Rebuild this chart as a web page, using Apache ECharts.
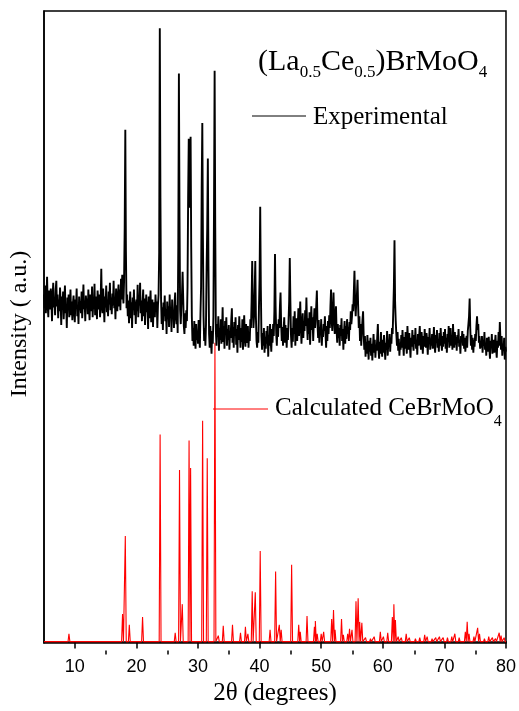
<!DOCTYPE html>
<html>
<head>
<meta charset="utf-8">
<script src="https://cdn.jsdelivr.net/npm/echarts@6/dist/echarts.min.js"></script>
<style>
  html, body { margin: 0; padding: 0; background: #fff; }
  #chart { width: 519px; height: 711px; }
</style>
</head>
<body>
<div id="chart"></div>
<script>
// ---- data -------------------------------------------------------------
const twoThetaRange = [5, 80];
const majorTicks = [10, 20, 30, 40, 50, 60, 70, 80];
const minorTicks = [15, 25, 35, 45, 55, 65, 75];

// Measured pattern, 2θ = 5.0 … 80.0 in 0.1° steps (one row per degree)
const expStart = 5.0;
const expStep = 0.1;
const expIntensity = [
  352,338,361,333,349,370,341,329,356,344,
  337,358,346,325,351,364,339,348,331,357,
  366,340,352,328,347,335,359,344,321,350,
  338,355,327,346,361,333,342,318,349,336,
  352,329,340,357,331,345,326,343,351,334,
  324,347,339,358,330,341,322,350,336,345,
  333,355,328,343,362,337,346,325,351,340,
  348,332,357,339,326,352,343,335,360,329,
  345,338,363,331,350,341,327,356,344,337,
  352,329,346,378,340,333,358,345,324,350,
  339,361,334,347,330,355,342,364,336,349,
  332,353,341,366,338,349,327,358,344,335,
  351,362,340,357,336,368,347,372,355,343,
  366,420,519,395,338,352,330,346,323,341,
  355,328,344,318,349,336,357,331,345,322,
  347,335,362,329,350,341,364,333,346,325,
  343,357,330,348,321,339,352,334,345,317,
  350,328,342,356,324,338,347,319,344,336,
  329,352,338,345,318,341,352,395,622,450,
  348,322,339,316,344,330,351,325,337,312,
  345,327,340,319,352,331,338,314,347,329,
  336,318,344,354,330,322,341,313,400,576,
  430,336,322,341,352,375,348,320,312,333,
  318,336,325,360,450,510,440,460,512,400,
  330,305,318,300,325,310,297,322,306,315,
  302,326,310,298,332,360,460,526,410,330,
  305,318,300,322,380,420,490,380,312,298,
  320,305,292,315,302,330,440,579,420,315,
  300,322,309,330,295,318,306,327,302,314,
  339,304,320,297,325,311,329,300,317,306,
  321,296,314,308,326,338,303,319,298,324,
  310,329,301,317,293,321,306,330,312,298,
  318,304,327,296,314,331,308,299,322,311,
  303,320,298,312,305,327,318,345,386,340,
  318,330,355,386,330,305,298,314,303,340,
  370,441,360,310,296,313,300,318,293,309,
  297,315,302,320,289,311,300,322,305,294,
  317,303,322,310,335,393,340,312,300,322,
  309,327,318,340,354,322,305,319,300,316,
  329,303,321,310,298,318,306,325,345,389,
  345,310,298,318,304,330,312,335,300,322,
  328,305,320,338,310,326,345,318,302,321,
  333,308,325,315,336,320,349,322,306,328,
  312,334,301,322,340,316,329,305,324,338,
  318,330,341,356,322,308,326,303,319,311,
  327,300,316,309,322,315,330,312,298,320,
  305,325,312,331,318,340,357,326,315,333,
  354,328,312,325,340,316,303,322,308,318,
  300,321,310,328,305,317,296,314,325,302,
  320,307,327,312,319,305,324,316,335,322,
  330,342,335,355,376,348,330,345,352,367,
  340,318,330,305,322,300,315,326,335,310,
  296,310,289,304,292,311,298,286,305,294,
  308,290,302,285,299,312,293,306,288,301,
  295,309,322,297,287,304,292,314,298,289,
  306,293,311,300,286,303,296,315,290,304,
  299,312,294,308,302,318,312,335,360,407,
  344,325,312,300,314,295,307,290,303,296,
  311,298,316,302,290,309,297,314,303,292,
  320,305,296,313,300,288,308,299,316,302,
  295,311,302,318,297,306,291,312,300,309,
  320,303,296,314,305,292,310,299,317,304,
  298,313,306,291,309,302,318,296,307,300,
  312,297,305,319,300,293,311,304,316,298,
  306,294,313,300,318,303,295,310,299,314,
  302,317,297,308,293,312,305,320,298,309,
  318,300,311,296,322,305,298,314,301,309,
  295,311,303,317,299,306,292,310,304,315,
  300,312,297,308,294,303,310,298,315,322,
  330,348,318,300,311,296,308,293,306,299,
  312,305,320,330,316,322,303,310,297,305,
  298,310,293,306,300,314,296,303,290,308,
  301,294,309,297,287,305,299,312,292,300,
  306,293,302,311,296,288,305,298,314,300,
  324,306,296,310,290,302,295,308,286,299,
  294
];

// Calculated CeBrMoO4 reflections: [2θ, intensity]
const calcPeaks = [
  [9.05, 8], [17.75, 28], [18.2, 107], [18.85, 17], [21.0, 25],
  [23.85, 210], [26.3, 9], [27.0, 174], [27.45, 38], [28.55, 204],
  [28.8, 176], [30.75, 224], [31.5, 186], [32.75, 303], [33.3, 6],
  [34.1, 16], [35.6, 17], [36.9, 9], [37.7, 15], [38.1, 8],
  [38.8, 51], [39.3, 50], [40.1, 92], [41.7, 12], [42.6, 71],
  [43.2, 17], [43.5, 12], [45.2, 78], [46.35, 17], [46.6, 10],
  [47.7, 26], [48.9, 15], [49.05, 21], [49.35, 8], [50.0, 8],
  [50.4, 10], [51.7, 23], [52.0, 32], [52.25, 12], [53.3, 23],
  [53.6, 7], [54.3, 8], [54.6, 13], [55.0, 12], [55.65, 41],
  [56.0, 44], [56.25, 20], [56.6, 19], [57.2, 4], [58.0, 3],
  [58.6, 5], [59.6, 10], [60.1, 5], [60.8, 9], [61.55, 25],
  [61.8, 38], [62.05, 22], [62.5, 5], [63.0, 4], [63.8, 8],
  [64.3, 4], [65.3, 3], [66.0, 4], [66.8, 7], [67.2, 5],
  [68.0, 3], [68.6, 4], [69.2, 5], [69.8, 4], [70.5, 4],
  [71.2, 5], [71.7, 8], [72.4, 4], [73.4, 10], [73.7, 20],
  [74.0, 8], [74.8, 5], [75.4, 14], [75.7, 8], [76.5, 3],
  [77.2, 5], [77.8, 4], [78.3, 3], [78.9, 9], [79.2, 6], [79.7, 4]
];

// ---- series construction ---------------------------------------------
const expLine = expIntensity.map((v, i) => [+(expStart + i * expStep).toFixed(1), v]);

const peakHalfWidth = 0.15;
const calcLine = [[twoThetaRange[0], 0]];
calcPeaks.forEach(([t, h]) => {
  calcLine.push([t - peakHalfWidth, 0], [t, h], [t + peakHalfWidth, 0]);
});
calcLine.push([twoThetaRange[1], 0]);

// ---- chart ------------------------------------------------------------
const serif = 'Liberation Serif';
const sans = 'Liberation Sans';
const chart = echarts.init(document.getElementById('chart'));

const gridBox = { left: 44, right: 12, top: 11, bottom: 59 };

chart.setOption({
  animation: false,
  backgroundColor: '#fff',
  grid: [
    Object.assign({ show: true, borderColor: '#000', borderWidth: 1.5, backgroundColor: 'transparent' }, gridBox),
    Object.assign({ show: false }, gridBox)
  ],
  xAxis: [
    {
      type: 'value', gridIndex: 0, position: 'bottom',
      min: twoThetaRange[0], max: twoThetaRange[1],
      axisLine: { show: true, lineStyle: { color: '#000', width: 1.5 } },
      axisTick: { show: true, inside: false, length: 7, customValues: majorTicks, lineStyle: { color: '#000', width: 1.5 } },
      axisLabel: { show: true, customValues: majorTicks, margin: 15, fontSize: 18, fontFamily: sans, color: '#000' },
      splitLine: { show: false },
      name: '2θ (degrees)', nameLocation: 'middle', nameGap: 30,
      nameTextStyle: { fontFamily: serif, fontSize: 25, color: '#000' }
    },
    {
      type: 'value', gridIndex: 1, position: 'bottom',
      min: twoThetaRange[0], max: twoThetaRange[1],
      axisLine: { show: false },
      axisTick: { show: true, inside: false, length: 4, customValues: minorTicks, lineStyle: { color: '#000', width: 1.5 } },
      axisLabel: { show: false },
      splitLine: { show: false }
    }
  ],
  yAxis: [
    {
      type: 'value', gridIndex: 0, min: -1.5, max: 639.5,
      axisLine: { show: true, lineStyle: { color: '#000', width: 1.5 } },
      axisTick: { show: false }, axisLabel: { show: false }, splitLine: { show: false }
    },
    {
      type: 'value', gridIndex: 1, min: -1.5, max: 639.5, show: false
    }
  ],
  series: [
    {
      name: 'Experimental', type: 'line', xAxisIndex: 0, yAxisIndex: 0,
      data: expLine, showSymbol: false, symbol: 'none',
      lineStyle: { color: '#000', width: 1.9 }, z: 3
    },
    {
      name: 'Calculated CeBrMoO4', type: 'line', xAxisIndex: 0, yAxisIndex: 0,
      data: calcLine, showSymbol: false, symbol: 'none',
      lineStyle: { color: '#ff0000', width: 1.1 }, z: 2
    }
  ],
  graphic: [
    {
      type: 'text', x: 20, y: 324, rotation: Math.PI / 2,
      style: { text: 'Intensity ( a.u.)', fontFamily: serif, fontSize: 24, fill: '#000', align: 'center', verticalAlign: 'middle' }
    },
    {
      type: 'text', x: 258, y: 42.8,
      style: {
        text: '{m|(La}{s|0.5}{m|Ce}{s|0.5}{m|)BrMoO}{s|4}',
        verticalAlign: 'top', fill: '#000',
        rich: {
          m: { fontFamily: serif, fontSize: 30, lineHeight: 38, color: '#000' },
          s: { fontFamily: serif, fontSize: 17, height: 17, verticalAlign: 'bottom', color: '#000' }
        }
      }
    },
    {
      type: 'line', shape: { x1: 252, y1: 116, x2: 306, y2: 116 },
      style: { stroke: '#000', lineWidth: 1 }
    },
    {
      type: 'text', x: 313, y: 117,
      style: { text: 'Experimental', fontFamily: serif, fontSize: 25, fill: '#000', verticalAlign: 'middle' }
    },
    {
      type: 'line', shape: { x1: 213, y1: 409, x2: 268, y2: 409 },
      style: { stroke: '#ff0000', lineWidth: 1 }
    },
    {
      type: 'text', x: 275, y: 386.8,
      style: {
        text: '{m|Calculated CeBrMoO}{s|4}',
        verticalAlign: 'top', fill: '#000',
        rich: {
          m: { fontFamily: serif, fontSize: 25, lineHeight: 43, color: '#000' },
          s: { fontFamily: serif, fontSize: 16, height: 16, verticalAlign: 'bottom', color: '#000' }
        }
      }
    }
  ]
});
</script>
</body>
</html>
